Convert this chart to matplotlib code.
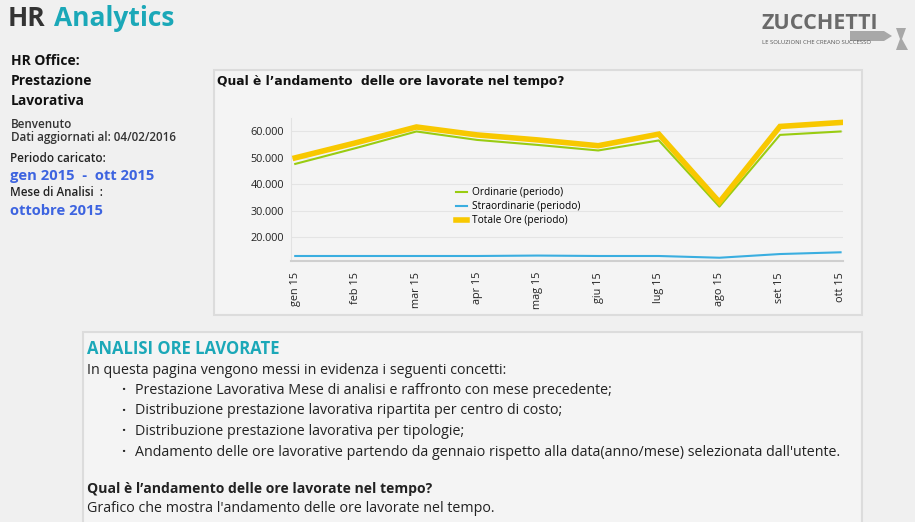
import matplotlib
matplotlib.use("Agg")
import matplotlib.pyplot as plt
from matplotlib.patches import Rectangle, Polygon
from matplotlib.ticker import FuncFormatter

# dati
mesi = ["gen 15", "feb 15", "mar 15", "apr 15", "mag 15", "giu 15",
        "lug 15", "ago 15", "set 15", "ott 15"]
ordinarie = [47700, 53700, 60000, 56800, 54900, 52800, 56600, 31500, 58700, 60000]
straordinarie = [2300, 2300, 2300, 2300, 2500, 2300, 2300, 1500, 3200, 4000]
totale = [50000, 55700, 61700, 58700, 56800, 54600, 59000, 33200, 61900, 63400]
y_ticks = [20000, 30000, 40000, 50000, 60000]

bullets = [
    "Prestazione Lavorativa Mese di analisi e raffronto con mese precedente;",
    "Distribuzione prestazione lavorativa ripartita per centro di costo;",
    "Distribuzione prestazione lavorativa per tipologie;",
    "Andamento delle ore lavorative partendo da gennaio rispetto alla data(anno/mese) selezionata dall'utente.",
]

W, H = 915, 522
BG = "#f0f0f0"
PANEL = "#f4f4f4"
TEAL = "#1ba8b8"
BLUE = "#3d64e0"
DARK = "#222222"
FONT = "Open Sans"

fig = plt.figure(figsize=(W / 100, H / 100), dpi=100, facecolor=BG)


def fx(x):
    return x / W


def fy(y):
    return 1 - y / H


def txt(x, y, s, **kw):
    kw.setdefault("family", FONT)
    kw.setdefault("color", DARK)
    kw.setdefault("va", "center")
    fig.text(fx(x), fy(y), s, **kw)


def panel(x0, y0, x1, y1):
    fig.patches.append(Rectangle((fx(x0), fy(y1)), fx(x1 - x0), (y1 - y0) / H,
                                 transform=fig.transFigure, facecolor=PANEL,
                                 edgecolor="#dcdcdc", linewidth=1.5, zorder=-5))


# intestazione
txt(8, 18, "HR", fontsize=19, fontweight="bold", color="#333333")
txt(54, 18, "Analytics", fontsize=19, fontweight="bold", color=TEAL)

# logo
fig.patches.append(Polygon([(fx(850), fy(31)), (fx(884), fy(31)), (fx(892), fy(36)),
                            (fx(884), fy(41)), (fx(850), fy(41))],
                           closed=True, transform=fig.transFigure,
                           facecolor="#a8a8a8", edgecolor="none", zorder=-2))
fig.patches.append(Polygon([(fx(896), fy(28)), (fx(906), fy(28)), (fx(902), fy(39)),
                            (fx(908), fy(50)), (fx(896), fy(50)), (fx(900), fy(39))],
                           closed=True, transform=fig.transFigure,
                           facecolor="#a8a8a8", edgecolor="none"))
txt(761, 24, "ZUCCHETTI", fontsize=15.5, fontweight="bold", color="#6a6a6a")
txt(762, 42, "LE SOLUZIONI CHE CREANO SUCCESSO", fontsize=4.3, color="#555555")

# colonna sinistra
txt(11, 61, "HR Office:", fontsize=10, fontweight="bold", color="#111111")
txt(11, 81, "Prestazione", fontsize=10, fontweight="bold", color="#111111")
txt(11, 101, "Lavorativa", fontsize=10, fontweight="bold", color="#111111")
txt(11, 124, "Benvenuto", fontsize=8.4, fontweight="semibold", color="#333333")
txt(11, 138, "Dati aggiornati al: 04/02/2016", fontsize=8.4, fontweight="semibold", color="#333333")
txt(10, 158, "Periodo caricato:", fontsize=8.4, fontweight="semibold", color="#222222")
txt(10, 176, "gen 2015  -  ott 2015", fontsize=10.6, fontweight="bold", color=BLUE)
txt(10, 193, "Mese di Analisi  :", fontsize=8.4, fontweight="semibold", color="#222222")
txt(10, 211, "ottobre 2015", fontsize=10.6, fontweight="bold", color=BLUE)

# pannello grafico
panel(214, 70, 862, 315)
txt(217, 82, "Qual è l\u2019andamento  delle ore lavorate nel tempo?", fontsize=8.8,
    fontweight="bold", family="DejaVu Sans", color="#111111")

ax = fig.add_axes([fx(291), fy(261), fx(843 - 291), (261 - 113) / H])
ax.set_facecolor("none")
x = list(range(len(mesi)))
ax.plot(x, ordinarie, color="#99cc11", lw=1.5, label="Ordinarie (periodo)", zorder=3)
ax.plot([], [], color="#3aaee0", lw=1.5, label="Straordinarie (periodo)")
ax.plot(x, totale, color="#f8c800", lw=4, label="Totale Ore (periodo)", zorder=4,
        solid_joinstyle="miter")
ax.set_xlim(-0.07, 9.04)
ax.set_ylim(10900, 67000)
ax.set_yticks(y_ticks)
ax.yaxis.set_major_formatter(FuncFormatter(lambda v, p: f"{int(v):,}".replace(",", ".")))
ax.set_xticks(x)
ax.set_xticklabels(mesi, rotation=90)
ax.grid(axis="y", color="#e4e4e4", lw=0.8)
ax.tick_params(axis="both", length=0, labelsize=7.8, colors="#222222", pad=5)
ax.tick_params(axis="x", pad=8)
for lab in ax.get_xticklabels() + ax.get_yticklabels():
    lab.set_family(FONT)
for s in ["top", "right"]:
    ax.spines[s].set_visible(False)
ax.spines["left"].set_color("#e2e2e2")
ax.spines["left"].set_bounds(10900, 65000)
ax.spines["bottom"].set_color("#cfcfcf")
ax.spines["bottom"].set_linewidth(1.5)

ax2 = ax.twinx()
ax2.plot(x, straordinarie, color="#3aaee0", lw=1.5, zorder=3)
ax2.set_ylim(0, 68000)
ax2.axis("off")

leg = ax.legend(loc="upper left", bbox_to_anchor=((452 - 291) / (843 - 291), (261 - 183) / 148),
                frameon=False, handlelength=1.1, handletextpad=0.5,
                labelspacing=0.3, borderaxespad=0, prop={"family": FONT, "size": 7.3})

# pannello testo
panel(83, 332, 862, 540)
txt(87, 349, "ANALISI ORE LAVORATE", fontsize=12, fontweight="bold", color=TEAL)
txt(87, 370, "In questa pagina vengono messi in evidenza i seguenti concetti:", fontsize=10.3)
for i, b in enumerate(bullets):
    yy = 390 + i * 20.7
    txt(121, yy, "\u00b7", fontsize=10.3, fontweight="bold")
    txt(135, yy, b, fontsize=10.3)
txt(87, 489, "Qual è l\u2019andamento delle ore lavorate nel tempo?", fontsize=10.1, fontweight="bold")
txt(87, 509, "Grafico che mostra l'andamento delle ore lavorate nel tempo.", fontsize=10.3)

fig.savefig("out.png", dpi=100, facecolor=BG)
